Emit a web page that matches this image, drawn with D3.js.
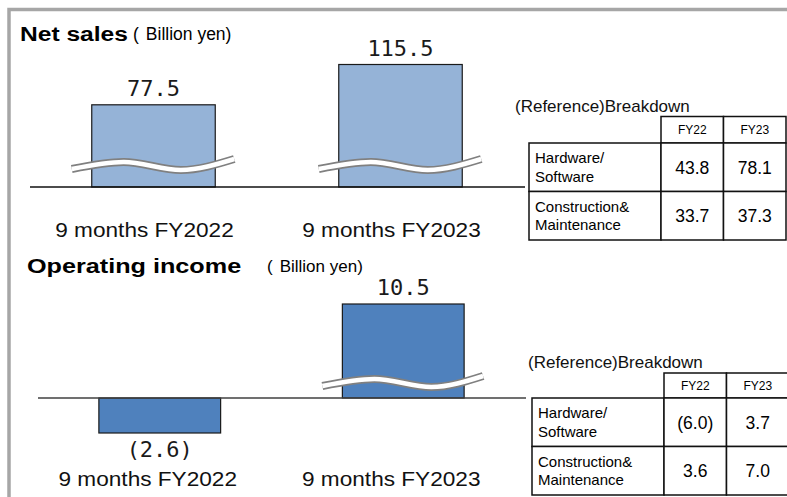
<!DOCTYPE html>
<html>
<head>
<meta charset="utf-8">
<script src="https://cdn.jsdelivr.net/npm/d3@7"></script>
<style>
  body { margin: 0; background: #fff; }
  svg { display: block; }
</style>
</head>
<body>
<script>
// chart values
const categories = ['9 months FY2022', '9 months FY2023'];
const netSales = [77.5, 115.5];
const operatingIncome = [-2.6, 10.5];

// breakdown tables
const fiscalYears = ['FY22', 'FY23'];
const segments = [['Hardware/', 'Software'], ['Construction&', 'Maintenance']];
const salesFY22 = [43.8, 33.7];
const salesFY23 = [78.1, 37.3];
const incomeFY22 = [-6.0, 3.6];
const incomeFY23 = [3.7, 7.0];

const W = 787, H = 497;
const fmt = v => v < 0 ? `(${d3.format('.1f')(-v)})` : d3.format('.1f')(v);
const sans = '"Liberation Sans", Arial, sans-serif';
const mono = '"DejaVu Sans Mono", monospace';

const svg = d3.select('body').append('svg')
    .attr('width', W)
    .attr('height', H);

svg.append('rect').attr('width', W).attr('height', H).attr('fill', '#fff');

// slide frame (only top and left edges are visible)
svg.append('path')
    .attr('d', `M9,${H} V9.5 H${W}`)
    .attr('fill', 'none')
    .attr('stroke', '#a6a6a6')
    .attr('stroke-width', 3.5);

// wavy "break" mark
const breakLine = d3.line().curve(d3.curveMonotoneX);

function drawPanel(cfg) {
    const g = svg.append('g');
    const x = d3.scaleBand()
        .domain(categories)
        .range(cfg.xRange)
        .paddingInner(0.5)
        .paddingOuter(0.25);
    const y = cfg.y;
    const bw = x.bandwidth();
    const rows = categories.map((c, i) => ({ cat: c, value: cfg.values[i] }));

    // title
    g.append('text')
        .attr('transform', `translate(${cfg.titlePos[0]},${cfg.titlePos[1]}) scale(1.2,1)`)
        .attr('font-family', sans)
        .attr('font-weight', 'bold')
        .attr('font-size', cfg.titleSize)
        .text(cfg.title);
    // unit, wide-paren look: "(" then a gap
    const unit = g.append('text')
        .attr('x', cfg.unitX)
        .attr('y', cfg.titlePos[1] - 1)
        .attr('font-family', sans)
        .attr('font-size', cfg.unitSize);
    unit.append('tspan').text('(');
    unit.append('tspan').attr('dx', 7).text('Billion yen)');

    g.selectAll('rect.bar')
        .data(rows)
        .join('rect')
        .attr('class', 'bar')
        .attr('x', d => x(d.cat))
        .attr('y', d => Math.min(y(d.value), y(0)))
        .attr('width', bw)
        .attr('height', d => Math.abs(y(d.value) - y(0)))
        .attr('fill', cfg.color)
        .attr('stroke', '#1a1a1a')
        .attr('stroke-width', 1.2);

    // break marks on the positive bars
    const breaks = rows.filter(d => d.value > 0).map(d => {
        const x0 = x(d.cat), b = y(0) + cfg.breakOffset;
        return [[x0 - 20, b + 1], [x0 + 32, b - 6], [x0 + 89, b + 2], [x0 + bw + 19, b - 9]];
    });
    g.selectAll('path.break-outer')
        .data(breaks)
        .join('path')
        .attr('class', 'break-outer')
        .attr('d', breakLine)
        .attr('fill', 'none')
        .attr('stroke', '#808080')
        .attr('stroke-width', 8);
    g.selectAll('path.break-inner')
        .data(breaks)
        .join('path')
        .attr('class', 'break-inner')
        .attr('d', breakLine)
        .attr('fill', 'none')
        .attr('stroke', '#fff')
        .attr('stroke-width', 4.5);

    // baseline
    g.append('line')
        .attr('x1', cfg.xRange[0])
        .attr('x2', cfg.xRange[1] + 1)
        .attr('y1', y(0))
        .attr('y2', y(0))
        .attr('stroke', cfg.axisColor)
        .attr('stroke-width', 1.3);

    // value labels
    g.selectAll('text.value')
        .data(rows)
        .join('text')
        .attr('class', 'value')
        .attr('x', d => x(d.cat) + bw / 2)
        .attr('y', d => d.value < 0 ? y(d.value) + 24 : y(d.value) - 9)
        .attr('text-anchor', 'middle')
        .attr('font-family', mono)
        .attr('font-size', 22)
        .attr('fill', '#1a1a1a')
        .text(d => fmt(d.value));

    // category labels
    g.selectAll('text.cat')
        .data(rows)
        .join('text')
        .attr('class', 'cat')
        .attr('transform', d => `translate(${x(d.cat) + bw / 2 - cfg.catShift},${cfg.catY}) scale(1.16,1)`)
        .attr('text-anchor', 'middle')
        .attr('font-family', sans)
        .attr('font-size', 19.5)
        .attr('fill', '#111')
        .text(d => d.cat);
}

function drawTable(cfg) {
    const g = svg.append('g').attr('transform', `translate(${cfg.x},${cfg.y})`);
    const labelW = 132, colW = 62.5, headH = cfg.headH, rowH = 48.5;
    const cols = d3.scaleBand().domain(fiscalYears).range([labelW, labelW + 2 * colW]);
    const values = [cfg.fy22, cfg.fy23];

    g.append('text')
        .attr('x', cfg.captionDx)
        .attr('y', -5)
        .attr('font-family', sans)
        .attr('font-size', 17)
        .attr('fill', '#111')
        .text('(Reference)Breakdown');

    // header cells
    g.selectAll('rect.head')
        .data(fiscalYears)
        .join('rect')
        .attr('class', 'head')
        .attr('x', d => cols(d))
        .attr('y', 0)
        .attr('width', colW)
        .attr('height', headH)
        .attr('fill', '#fff')
        .attr('stroke', '#111')
        .attr('stroke-width', 1.5);
    g.selectAll('text.head')
        .data(fiscalYears)
        .join('text')
        .attr('class', 'head')
        .attr('x', d => cols(d) + colW / 2)
        .attr('y', headH / 2 + 4.5)
        .attr('text-anchor', 'middle')
        .attr('font-family', sans)
        .attr('font-size', 12)
        .text(d => d);

    const body = g.selectAll('g.row')
        .data(segments)
        .join('g')
        .attr('class', 'row')
        .attr('transform', (d, i) => `translate(0,${headH + i * rowH})`);

    body.append('rect')
        .attr('width', labelW)
        .attr('height', rowH)
        .attr('fill', '#fff')
        .attr('stroke', '#111')
        .attr('stroke-width', 1.5);
    body.append('text')
        .attr('font-family', sans)
        .attr('font-size', 15)
        .selectAll('tspan')
        .data(d => d)
        .join('tspan')
        .attr('x', 6)
        .attr('y', (d, j) => 20 + j * 18.5)
        .text(d => d);

    fiscalYears.forEach((fy, c) => {
        body.append('rect')
            .attr('x', cols(fy))
            .attr('width', colW)
            .attr('height', rowH)
            .attr('fill', '#fff')
            .attr('stroke', '#111')
            .attr('stroke-width', 1.5);
        body.append('text')
            .attr('x', cols(fy) + colW / 2)
            .attr('y', 30.5)
            .attr('text-anchor', 'middle')
            .attr('font-family', sans)
            .attr('font-size', 17.5)
            .text((d, i) => fmt(values[c][i]));
    });
}

drawPanel({
    title: 'Net sales',
    titlePos: [20, 41],
    titleSize: 20.5,
    unitX: 133,
    unitSize: 17.5,
    values: netSales,
    xRange: [30, 524],
    y: d3.scaleLinear().domain([0, 115.5]).range([187, 64.5]),
    color: '#95b3d7',
    axisColor: '#111',
    breakOffset: -19,
    catShift: 9,
    catY: 237
});

drawPanel({
    title: 'Operating income',
    titlePos: [27, 273],
    titleSize: 21,
    unitX: 267,
    unitSize: 17,
    values: operatingIncome,
    xRange: [38, 525],
    y: d3.scaleLinear().domain([-2.6, 0, 10.5]).range([433, 398, 304]),
    color: '#4f81bd',
    axisColor: '#404040',
    breakOffset: -13,
    catShift: 12,
    catY: 486
});

drawTable({ x: 529, y: 116.5, headH: 26.5, captionDx: -14, fy22: salesFY22, fy23: salesFY23 });
drawTable({ x: 532, y: 373, headH: 25, captionDx: -4, fy22: incomeFY22, fy23: incomeFY23 });
</script>
</body>
</html>
